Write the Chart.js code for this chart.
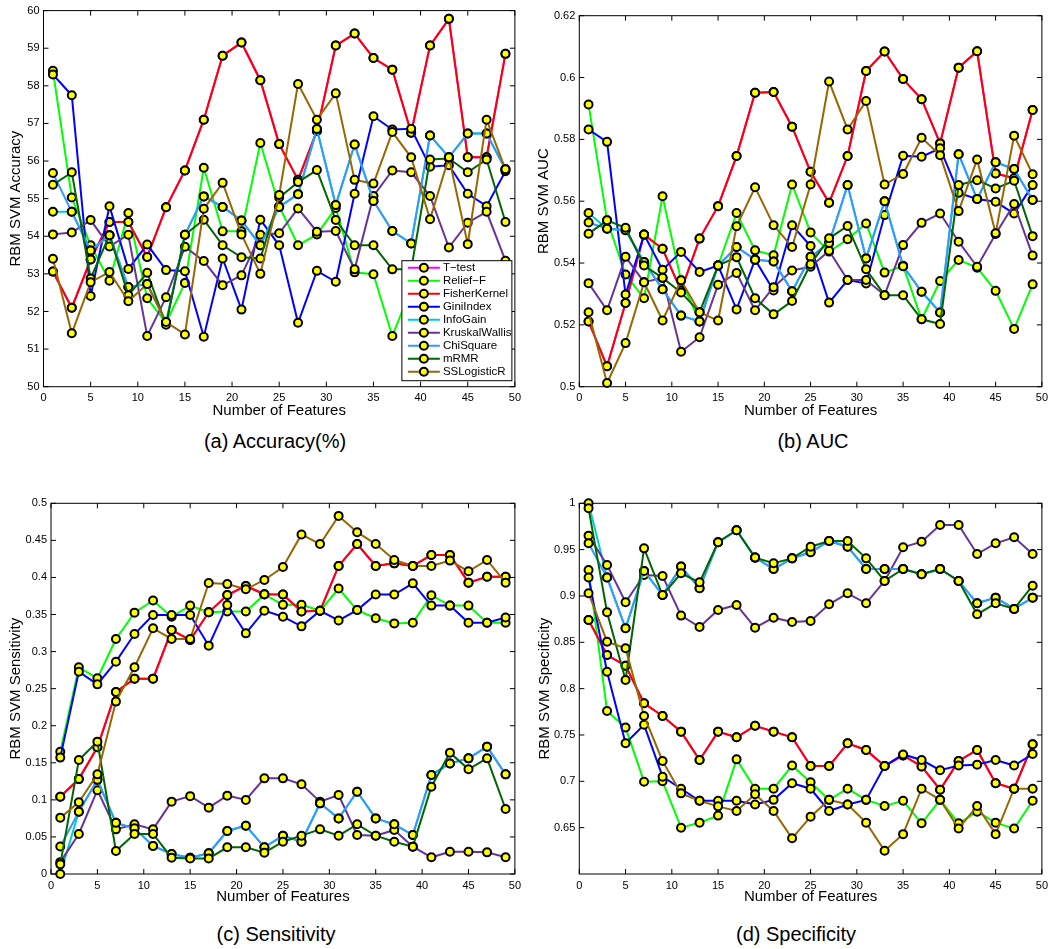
<!DOCTYPE html>
<html>
<head>
<meta charset="utf-8">
<script src="https://cdn.jsdelivr.net/npm/chart.js@4.4.0/dist/chart.umd.min.js"></script>
<style>
  body { margin: 0; background: #fff; }
  #fig { position: relative; width: 1053px; height: 949px; background: #fff;
         font-family: "Liberation Sans", Arial, Helvetica, sans-serif; }
  canvas { position: absolute; }
  .cap { position: absolute; font-size: 20px; color: #000; white-space: nowrap;
         transform: translate(-50%, -50%); }
</style>
</head>
<body>
<div id="fig">
  <canvas id="accChart"></canvas>
  <canvas id="aucChart"></canvas>
  <canvas id="senChart"></canvas>
  <canvas id="speChart"></canvas>
  <div class="cap" style="left:275px;top:441px">(a) Accuracy(%)</div>
  <div class="cap" style="left:813px;top:441px">(b) AUC</div>
  <div class="cap" style="left:276px;top:934px">(c) Sensitivity</div>
  <div class="cap" style="left:796px;top:934px">(d) Specificity</div>
</div>
<script>
// number of selected features (x values)
const features = [1, 3, 5, 7, 9, 11, 13, 15, 17, 19, 21, 23, 25, 27, 29, 31, 33, 35, 37, 39, 41, 43, 45, 47, 49];
const xTicks = [0, 5, 10, 15, 20, 25, 30, 35, 40, 45, 50];

const methodNames = ['T\u2212test', 'Relief\u2212F', 'FisherKernel', 'GiniIndex', 'InfoGain',
                     'KruskalWallis', 'ChiSquare', 'mRMR', 'SSLogisticR'];
const methodColors = ['#FF00FF', '#00FF00', '#FF0000', '#0000FF', '#00CCCC',
                      '#663399', '#3399FF', '#006600', '#996600'];

// (a) accuracy
const accTicks = [50, 51, 52, 53, 54, 55, 56, 57, 58, 59, 60];
const accTtest = [53.06, 52.10, 53.38, 54.38, 54.38, 53.45, 54.77, 55.75, 57.10, 58.80, 59.15, 58.15, 56.45, 55.50, 56.80, 59.07, 59.39, 58.74, 58.43, 56.75, 59.07, 59.78, 56.10, 56.10, 58.85];
const accRelief = [58.40, 55.03, 53.76, 52.82, 54.62, 52.35, 51.70, 52.76, 55.82, 54.13, 54.13, 56.48, 54.80, 53.76, 54.05, 54.75, 53.04, 52.99, 51.35, 52.60, 52.30, 52.10, 52.70, 52.40, 52.60];
const accFisher = [53.06, 52.10, 53.38, 54.38, 54.38, 53.45, 54.77, 55.75, 57.10, 58.80, 59.15, 58.15, 56.45, 55.50, 56.80, 59.07, 59.39, 58.74, 58.43, 56.75, 59.07, 59.78, 56.10, 56.10, 58.85];
const accGini = [58.30, 57.75, 52.41, 54.80, 53.13, 53.78, 53.10, 53.07, 51.33, 53.41, 52.05, 54.44, 53.76, 51.70, 53.08, 52.79, 55.13, 57.19, 56.84, 56.86, 55.85, 55.89, 55.13, 54.80, 55.73];
const accInfo = [54.65, 54.65, 53.62, 54.03, 52.65, 52.73, 51.70, 54.04, 55.06, 54.78, 54.42, 53.76, 54.78, 55.12, 56.85, 54.83, 56.44, 54.94, 54.14, 53.81, 56.68, 56.10, 56.73, 56.73, 55.78];
const accKruskal = [54.05, 54.10, 54.43, 53.73, 54.04, 51.35, 52.38, 53.72, 53.34, 52.70, 52.96, 54.04, 54.08, 54.74, 54.12, 54.14, 53.12, 55.07, 55.75, 55.70, 55.07, 53.70, 54.36, 54.65, 53.35];
const accChi = [55.68, 54.65, 53.62, 54.03, 52.65, 52.73, 51.70, 54.04, 55.06, 54.78, 54.42, 53.76, 54.78, 55.12, 56.85, 54.83, 56.44, 54.94, 54.14, 53.81, 56.68, 56.10, 56.73, 56.73, 55.78];
const accMrmr = [55.37, 55.70, 52.88, 54.03, 52.43, 53.03, 51.65, 54.04, 54.44, 53.76, 53.44, 53.41, 55.03, 55.44, 55.76, 54.43, 53.76, 53.76, 53.12, 53.12, 56.04, 56.07, 55.70, 56.04, 54.38];
const accSSL = [53.40, 51.42, 52.78, 53.05, 52.27, 52.73, 51.72, 51.39, 54.73, 55.42, 54.05, 53.00, 55.10, 58.05, 57.10, 57.80, 55.50, 55.40, 56.77, 56.10, 54.45, 56.10, 53.79, 57.10, 55.78];

// (b) AUC
const aucTicks = [0.5, 0.52, 0.54, 0.56, 0.58, 0.6, 0.62];
const aucTtest = [0.5211, 0.5066, 0.5271, 0.5492, 0.5446, 0.5311, 0.5479, 0.5584, 0.5746, 0.5951, 0.5953, 0.5841, 0.5695, 0.5595, 0.5746, 0.6021, 0.6084, 0.5995, 0.593, 0.5787, 0.6032, 0.6085, 0.569, 0.5674, 0.5895];
const aucRelief = [0.5913, 0.5538, 0.5363, 0.5286, 0.5616, 0.5344, 0.5211, 0.5392, 0.5562, 0.5441, 0.5425, 0.5654, 0.5499, 0.5437, 0.5477, 0.5528, 0.5369, 0.5391, 0.5218, 0.5342, 0.541, 0.5385, 0.531, 0.5187, 0.5331];
const aucFisher = [0.5211, 0.5066, 0.5271, 0.5492, 0.5446, 0.5311, 0.5479, 0.5584, 0.5746, 0.5951, 0.5953, 0.5841, 0.5695, 0.5595, 0.5746, 0.6021, 0.6084, 0.5995, 0.593, 0.5787, 0.6032, 0.6085, 0.569, 0.5674, 0.5895];
const aucGini = [0.5832, 0.5792, 0.5298, 0.5492, 0.5378, 0.5436, 0.5371, 0.5392, 0.525, 0.5411, 0.5311, 0.5522, 0.5455, 0.5272, 0.5345, 0.5334, 0.5555, 0.5747, 0.5744, 0.5771, 0.5627, 0.5607, 0.5598, 0.556, 0.5652];
const aucInfo = [0.5562, 0.5511, 0.5506, 0.5403, 0.5315, 0.523, 0.5211, 0.5392, 0.5452, 0.5411, 0.5405, 0.5309, 0.542, 0.5465, 0.5652, 0.5415, 0.560, 0.539, 0.5307, 0.524, 0.5752, 0.5607, 0.5726, 0.5704, 0.5604];
const aucKruskal = [0.5335, 0.5247, 0.542, 0.5338, 0.5352, 0.5113, 0.516, 0.533, 0.5368, 0.5247, 0.5322, 0.5376, 0.5388, 0.544, 0.5345, 0.5345, 0.5296, 0.5458, 0.553, 0.556, 0.5469, 0.5388, 0.5494, 0.5591, 0.5424];
const aucChi = [0.5531, 0.5511, 0.5506, 0.5403, 0.5315, 0.523, 0.5211, 0.5392, 0.5452, 0.5411, 0.5405, 0.5309, 0.542, 0.5465, 0.5652, 0.5415, 0.560, 0.539, 0.5307, 0.524, 0.5752, 0.5607, 0.5726, 0.5704, 0.5604];
const aucMrmr = [0.5495, 0.5538, 0.5514, 0.5392, 0.5352, 0.5305, 0.5241, 0.5392, 0.5419, 0.5286, 0.5234, 0.5277, 0.5396, 0.548, 0.552, 0.538, 0.5296, 0.5296, 0.5218, 0.5203, 0.5652, 0.5668, 0.5641, 0.5666, 0.5487];
const aucSSL = [0.5241, 0.5012, 0.5141, 0.5338, 0.5214, 0.5344, 0.5241, 0.5214, 0.5519, 0.5645, 0.5522, 0.5452, 0.5654, 0.5987, 0.5832, 0.5924, 0.5654, 0.5688, 0.5805, 0.5749, 0.5568, 0.5735, 0.5496, 0.5812, 0.5687];

// (c) sensitivity
const senTicks = [0, 0.05, 0.1, 0.15, 0.2, 0.25, 0.3, 0.35, 0.4, 0.45, 0.5];
const senTtest = [0.1043, 0.128, 0.171, 0.2455, 0.2635, 0.2635, 0.329, 0.3157, 0.353, 0.3763, 0.3885, 0.3773, 0.377, 0.354, 0.355, 0.4155, 0.445, 0.4155, 0.419, 0.4155, 0.4303, 0.4303, 0.393, 0.401, 0.401];
const senRelief = [0.165, 0.2788, 0.264, 0.317, 0.3525, 0.369, 0.347, 0.362, 0.353, 0.354, 0.354, 0.377, 0.363, 0.363, 0.355, 0.385, 0.356, 0.345, 0.338, 0.339, 0.376, 0.362, 0.362, 0.339, 0.339];
const senFisher = [0.1043, 0.128, 0.171, 0.2455, 0.2635, 0.2635, 0.329, 0.3157, 0.353, 0.3763, 0.3885, 0.3773, 0.377, 0.354, 0.355, 0.4155, 0.445, 0.4155, 0.419, 0.4155, 0.4303, 0.4303, 0.393, 0.401, 0.401];
const senGini = [0.157, 0.2729, 0.2558, 0.2864, 0.3237, 0.3494, 0.3494, 0.3494, 0.308, 0.3629, 0.3246, 0.3552, 0.347, 0.334, 0.355, 0.342, 0.356, 0.377, 0.377, 0.392, 0.362, 0.362, 0.339, 0.339, 0.346];
const senInfo = [0.0, 0.084, 0.127, 0.069, 0.0616, 0.0378, 0.027, 0.022, 0.028, 0.058, 0.0652, 0.036, 0.0517, 0.0436, 0.0953, 0.075, 0.111, 0.075, 0.067, 0.0526, 0.1335, 0.149, 0.156, 0.1718, 0.1344];
const senKruskal = [0.016, 0.054, 0.113, 0.0602, 0.067, 0.0602, 0.0976, 0.105, 0.0895, 0.1057, 0.0998, 0.129, 0.129, 0.121, 0.0976, 0.1066, 0.0526, 0.0517, 0.0594, 0.0369, 0.0225, 0.0301, 0.0301, 0.0292, 0.0225];
const senChi = [0.037, 0.084, 0.127, 0.069, 0.0616, 0.0378, 0.027, 0.022, 0.028, 0.058, 0.0652, 0.036, 0.0517, 0.0436, 0.0953, 0.075, 0.111, 0.075, 0.067, 0.0526, 0.1335, 0.149, 0.156, 0.1718, 0.1344];
const senMrmr = [0.013, 0.1538, 0.1785, 0.031, 0.054, 0.054, 0.022, 0.021, 0.021, 0.036, 0.036, 0.0288, 0.0436, 0.0517, 0.0602, 0.0517, 0.067, 0.0517, 0.0436, 0.0369, 0.1178, 0.1637, 0.1412, 0.156, 0.0877];
const senSSL = [0.076, 0.0967, 0.1344, 0.2325, 0.2788, 0.3314, 0.317, 0.317, 0.3925, 0.391, 0.384, 0.3966, 0.414, 0.458, 0.445, 0.483, 0.461, 0.445, 0.4236, 0.4155, 0.4155, 0.4227, 0.4083, 0.4236, 0.393];

// (d) specificity
const speTicks = [0.65, 0.7, 0.75, 0.8, 0.85, 0.9, 0.95, 1];
const speTtest = [0.874, 0.8363, 0.8248, 0.7842, 0.7705, 0.7536, 0.723, 0.7536, 0.7475, 0.760, 0.7536, 0.7475, 0.7165, 0.7165, 0.741, 0.7338, 0.7165, 0.728, 0.716, 0.691, 0.722, 0.7338, 0.698, 0.692, 0.74];
const speRelief = [0.928, 0.7759, 0.758, 0.6996, 0.70, 0.65, 0.6554, 0.663, 0.7237, 0.692, 0.692, 0.717, 0.6989, 0.68, 0.692, 0.68, 0.6734, 0.679, 0.6547, 0.68, 0.6547, 0.6673, 0.6554, 0.649, 0.679];
const speFisher = [0.874, 0.8363, 0.8248, 0.7842, 0.7705, 0.7536, 0.723, 0.7536, 0.7475, 0.760, 0.7536, 0.7475, 0.7165, 0.7165, 0.741, 0.7338, 0.7165, 0.728, 0.716, 0.691, 0.722, 0.7338, 0.698, 0.692, 0.74];
const speGini = [0.920, 0.8183, 0.741, 0.761, 0.705, 0.692, 0.679, 0.679, 0.679, 0.675, 0.68, 0.698, 0.692, 0.668, 0.675, 0.68, 0.7165, 0.729, 0.723, 0.712, 0.717, 0.718, 0.723, 0.717, 0.7295];
const speInfo = [1.0, 0.920, 0.8651, 0.927, 0.901, 0.9317, 0.9083, 0.958, 0.9709, 0.9414, 0.9291, 0.9406, 0.9471, 0.9594, 0.9532, 0.9291, 0.9291, 0.9291, 0.9234, 0.9291, 0.9162, 0.8921, 0.8982, 0.886, 0.8982];
const speKruskal = [0.9651, 0.9335, 0.8932, 0.9227, 0.9216, 0.8788, 0.8665, 0.8849, 0.8903, 0.8658, 0.8766, 0.872, 0.873, 0.891, 0.9029, 0.8921, 0.9162, 0.9525, 0.9586, 0.9766, 0.9766, 0.9453, 0.9568, 0.9633, 0.9453];
const speChi = [0.957, 0.920, 0.8651, 0.927, 0.901, 0.9317, 0.9083, 0.958, 0.9709, 0.9414, 0.9291, 0.9406, 0.9471, 0.9594, 0.9532, 0.9291, 0.9291, 0.9291, 0.9234, 0.9291, 0.9162, 0.8921, 0.8982, 0.886, 0.8982];
const speMrmr = [0.9946, 0.8824, 0.8094, 0.9514, 0.901, 0.9245, 0.9147, 0.958, 0.9709, 0.9414, 0.9353, 0.9406, 0.9532, 0.9594, 0.9594, 0.9406, 0.9162, 0.9291, 0.9234, 0.9291, 0.9162, 0.8802, 0.8921, 0.886, 0.9111];
const speSSL = [0.903, 0.8507, 0.8435, 0.7705, 0.722, 0.687, 0.679, 0.673, 0.668, 0.686, 0.668, 0.6385, 0.6619, 0.68, 0.675, 0.6554, 0.625, 0.643, 0.692, 0.68, 0.649, 0.6734, 0.643, 0.692, 0.692];

const FONT = '"Liberation Sans", Arial, Helvetica, sans-serif';
Chart.defaults.font.family = FONT;
Chart.defaults.color = '#000';

// matlab style box with inward ticks
const boxTicks = {
    id: 'boxTicks',
    beforeDatasetsDraw(chart) {
        const { ctx, chartArea: a, scales: { x, y } } = chart;
        const len = 5;
        ctx.save();
        ctx.strokeStyle = '#000';
        ctx.lineWidth = 1;
        ctx.strokeRect(a.left, a.top, a.right - a.left, a.bottom - a.top);
        ctx.beginPath();
        x.ticks.forEach(t => {
            const px = x.getPixelForValue(t.value);
            ctx.moveTo(px, a.bottom); ctx.lineTo(px, a.bottom - len);
            ctx.moveTo(px, a.top); ctx.lineTo(px, a.top + len);
        });
        y.ticks.forEach(t => {
            const py = y.getPixelForValue(t.value);
            ctx.moveTo(a.left, py); ctx.lineTo(a.left + len, py);
            ctx.moveTo(a.right, py); ctx.lineTo(a.right - len, py);
        });
        ctx.stroke();
        ctx.restore();
    }
};

// legend box in the lower right corner of panel (a)
const boxLegend = {
    id: 'boxLegend',
    afterDatasetsDraw(chart) {
        const { ctx, chartArea: a } = chart;
        const w = 110, h = 120;
        const left = a.right - 3 - w, top = a.bottom - 6 - h;
        ctx.save();
        ctx.fillStyle = '#fff';
        ctx.fillRect(left, top, w, h);
        ctx.strokeStyle = '#000';
        ctx.lineWidth = 1;
        ctx.strokeRect(left, top, w, h);
        ctx.font = '11.5px ' + FONT;
        ctx.textBaseline = 'middle';
        chart.data.datasets.forEach((ds, i) => {
            const yy = top + 7 + i * 13;
            ctx.strokeStyle = ds.borderColor;
            ctx.lineWidth = 2;
            ctx.beginPath(); ctx.moveTo(left + 6, yy); ctx.lineTo(left + 38, yy); ctx.stroke();
            ctx.beginPath(); ctx.arc(left + 22, yy, 4, 0, Math.PI * 2);
            ctx.fillStyle = '#FFFF00'; ctx.fill();
            ctx.strokeStyle = '#000'; ctx.stroke();
            ctx.fillStyle = '#000';
            ctx.fillText(ds.label, left + 41, yy);
        });
        ctx.restore();
    }
};

const fmt = v => String(+Number(v).toFixed(3));

function buildChart(p) {
    const cv = document.getElementById(p.id);
    const [cl, ct, cw, ch] = p.box;
    const [L, T, R, B] = p.plot;
    cv.width = cw; cv.height = ch;
    cv.style.left = cl + 'px';
    cv.style.top = ct + 'px';
    const yW = L - cl;
    const xH = ch - (B - ct);

    const datasets = methodNames.map((name, i) => ({
        label: name,
        data: features.map((f, k) => ({ x: f, y: p.series[i][k] })),
        borderColor: methodColors[i],
        backgroundColor: methodColors[i],
        borderWidth: 2,
        pointRadius: 4,
        pointBorderWidth: 2,
        pointBackgroundColor: '#FFFF00',
        pointBorderColor: '#000',
        tension: 0,
        clip: false,
        order: methodNames.length - i
    }));

    new Chart(cv, {
        type: 'line',
        data: { datasets },
        options: {
            responsive: false,
            animation: false,
            devicePixelRatio: 1,
            layout: { padding: { left: 0, top: T - ct, right: cl + cw - R, bottom: 0 } },
            plugins: { legend: { display: false }, tooltip: { enabled: false } },
            scales: {
                x: {
                    type: 'linear', min: 0, max: 50,
                    grid: { display: false, drawTicks: false },
                    border: { display: false },
                    afterBuildTicks: s => { s.ticks = xTicks.map(v => ({ value: v })); },
                    afterFit: s => { s.height = xH; },
                    ticks: { font: { size: 11 }, color: '#000', padding: 5, maxRotation: 0, autoSkip: false, callback: fmt },
                    title: { display: true, text: 'Number of Features', font: { size: 15 }, color: '#000',
                             padding: { top: 0, bottom: p.xPad } }
                },
                y: {
                    type: 'linear', min: p.min, max: p.max,
                    grid: { display: false, drawTicks: false },
                    border: { display: false },
                    afterBuildTicks: s => { s.ticks = p.ticks.map(v => ({ value: v })); },
                    afterFit: s => { s.width = yW; },
                    ticks: { font: { size: 11 }, color: '#000', padding: 4, autoSkip: false, callback: fmt },
                    title: { display: true, text: p.yTitle, font: { size: 15 }, color: '#000',
                             padding: { top: p.yPad, bottom: 0 } }
                }
            }
        },
        plugins: p.legend ? [boxTicks, boxLegend] : [boxTicks]
    });
}

const panels = [
    { id: 'accChart', box: [0, 0, 526, 425], plot: [43.5, 9.3, 519.5, 386.7], min: 50, max: 60, ticks: accTicks,
      yTitle: 'RBM SVM Accuracy', yPad: 7, xPad: 5, legend: true,
      series: [accTtest, accRelief, accFisher, accGini, accInfo, accKruskal, accChi, accMrmr, accSSL] },
    { id: 'aucChart', box: [526, 0, 527, 425], plot: [579.3, 15.7, 1048.7, 386.7], min: 0.5, max: 0.62, ticks: aucTicks,
      yTitle: 'RBM SVM AUC', yPad: 9, xPad: 5,
      series: [aucTtest, aucRelief, aucFisher, aucGini, aucInfo, aucKruskal, aucChi, aucMrmr, aucSSL] },
    { id: 'senChart', box: [0, 490, 526, 425], plot: [51, 503.3, 519.5, 874], min: 0, max: 0.5, ticks: senTicks,
      yTitle: 'RBM SVM Sensitivity', yPad: 7, xPad: 9,
      series: [senTtest, senRelief, senFisher, senGini, senInfo, senKruskal, senChi, senMrmr, senSSL] },
    { id: 'speChart', box: [526, 490, 527, 425], plot: [579.3, 503.3, 1048.7, 874], min: 0.6, max: 1, ticks: speTicks,
      yTitle: 'RBM SVM Specificity', yPad: 10, xPad: 9,
      series: [speTtest, speRelief, speFisher, speGini, speInfo, speKruskal, speChi, speMrmr, speSSL] }
];

panels.forEach(buildChart);
</script>
</body>
</html>
